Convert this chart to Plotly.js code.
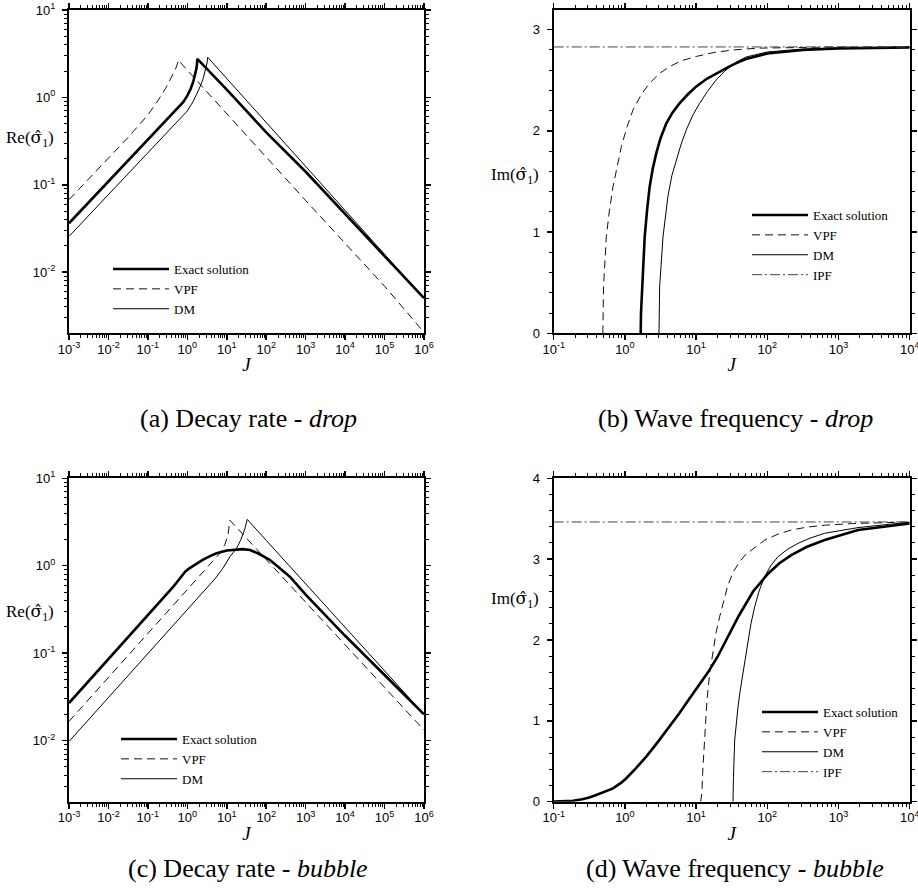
<!DOCTYPE html>
<html>
<head>
<meta charset="utf-8">
<script src="https://cdn.plot.ly/plotly-3.0.1.min.js"></script>
<style>html,body{margin:0;padding:0;background:#fff;}#chart{width:918px;height:896px;}</style>
</head>
<body>
<div id="chart"></div>
<script>
// ---------- (a) Decay rate - drop ----------
const aExactJ = [0.001, 0.01, 0.1, 0.501, 0.631, 0.794, 1, 1.202, 1.413, 1.585, 1.698, 1.758, 1.791, 10, 100, 1000, 1e4, 1e5, 1e6];
const aExactY = [0.0363, 0.1084, 0.3236, 0.696, 0.785, 0.887, 1.047, 1.239, 1.517, 1.820, 2.133, 2.404, 2.754, 1.23, 0.398, 0.141, 0.0468, 0.0155, 0.00504];
const aVpfJ = [0.001, 0.01, 0.0316, 0.1, 0.178, 0.282, 0.398, 0.501, 0.562, 0.590, 1, 10, 100, 1000, 1e4, 1e5, 1e6];
const aVpfY = [0.0676, 0.2018, 0.3487, 0.631, 0.912, 1.271, 1.679, 2.104, 2.432, 2.679, 2.042, 0.646, 0.204, 0.0661, 0.0214, 0.00692, 0.00205];
const aDmJ = [0.001, 0.01, 0.1, 0.501, 1, 1.413, 1.995, 2.512, 2.884, 3.162, 3.281, 10, 100, 1000, 1e4, 1e5, 1e6];
const aDmY = [0.0257, 0.0767, 0.229, 0.4925, 0.700, 0.904, 1.250, 1.641, 2.061, 2.472, 2.877, 1.641, 0.515, 0.162, 0.0509, 0.0160, 0.00504];

// ---------- (b) Wave frequency - drop ----------
const bExactJ = [1.667, 1.683, 1.754, 1.897, 2.051, 2.228, 2.466, 2.761, 3.177, 3.819, 4.699, 5.888, 7.621, 10.07, 14.13, 21.38, 28.18, 35.48, 50.12, 100, 316.2, 1000, 10000];
const bExactY = [0, 0.2, 0.46, 0.953, 1.22, 1.449, 1.63, 1.78, 1.93, 2.076, 2.185, 2.274, 2.36, 2.44, 2.515, 2.587, 2.63, 2.665, 2.71, 2.765, 2.80, 2.815, 2.825];
const bVpfJ = [0.490, 0.491, 0.501, 0.548, 0.603, 0.681, 0.776, 0.891, 1.072, 1.300, 1.698, 2.228, 3.020, 4.266, 6.310, 10.07, 17.78, 32.96, 74.13, 316.2, 1000, 10000];
const bVpfY = [0, 0.2, 0.46, 0.953, 1.2, 1.449, 1.66, 1.845, 2.04, 2.208, 2.36, 2.472, 2.565, 2.637, 2.695, 2.736, 2.775, 2.80, 2.818, 2.827, 2.83, 2.83];
const bDmJ = [3.013, 3.027, 3.076, 3.428, 4.027, 4.571, 5.272, 6.166, 7.278, 8.913, 11.22, 14.45, 19.23, 25.12, 35.48, 50.12, 100, 316.2, 1000, 10000];
const bDmY = [0, 0.2, 0.46, 0.953, 1.356, 1.56, 1.713, 1.87, 2.01, 2.15, 2.274, 2.39, 2.505, 2.59, 2.675, 2.73, 2.78, 2.81, 2.822, 2.828];
const bIpfJ = [0.1, 10000];
const bIpfY = [2.83, 2.83];

// ---------- (c) Decay rate - bubble ----------
const cExactJ = [0.001, 0.01, 0.0352, 0.1, 0.316, 0.442, 0.562, 0.708, 0.891, 1.122, 1.413, 1.73, 2.512, 3.981, 5.56, 10, 17.9, 25.1, 38.9, 63.1, 124.7, 398, 1000, 1e4, 1e5, 1e6];
const cExactY = [0.0269, 0.0851, 0.162, 0.272, 0.490, 0.577, 0.661, 0.767, 0.861, 0.933, 1.0, 1.069, 1.175, 1.303, 1.390, 1.496, 1.545, 1.549, 1.514, 1.380, 1.164, 0.750, 0.468, 0.158, 0.0562, 0.0200];
const cVpfJ = [0.001, 0.01, 0.1, 1, 3.16, 6.31, 8.91, 10.7, 12.0, 100, 1000, 1e4, 1e5, 1e6];
const cVpfY = [0.0166, 0.0525, 0.166, 0.525, 0.933, 1.349, 1.738, 2.239, 3.311, 1.175, 0.380, 0.123, 0.0407, 0.0132];
const cDmJ = [0.001, 0.01, 0.1, 1, 1.73, 3.162, 5.012, 7.943, 12.08, 17.78, 22.39, 28.18, 31.62, 33.11, 100, 1000, 1e4, 1e5, 1e6];
const cDmY = [0.00977, 0.0309, 0.0977, 0.309, 0.407, 0.556, 0.708, 0.933, 1.271, 1.585, 1.950, 2.570, 3.020, 3.388, 1.950, 0.617, 0.195, 0.0631, 0.0200];

// ---------- (d) Wave frequency - bubble ----------
const dExactJ = [0.1, 0.1413, 0.1866, 0.2512, 0.3162, 0.3963, 0.5012, 0.6808, 0.8913, 1.047, 1.413, 1.995, 2.818, 4.256, 5.888, 8.128, 10.96, 14.69, 19.95, 26.55, 39.81, 63.1, 102.3, 147.9, 217.3, 354.8, 639.7, 1879, 5012, 10000];
const dExactY = [0.002, 0.006, 0.012, 0.03, 0.052, 0.083, 0.12, 0.165, 0.235, 0.29, 0.41, 0.557, 0.725, 0.928, 1.10, 1.28, 1.44, 1.60, 1.79, 2.0, 2.3, 2.6, 2.82, 2.95, 3.05, 3.15, 3.237, 3.36, 3.41, 3.44];
const dVpfJ = [11.59, 11.75, 12.02, 12.50, 13.18, 14.22, 15.52, 17.26, 19.05, 21.43, 24.55, 27.54, 33.11, 40.93, 50.12, 63.1, 91.83, 141.3, 217.3, 354.8, 639.7, 1585, 3162, 10000];
const dVpfY = [0, 0.03, 0.1, 0.433, 0.846, 1.258, 1.588, 1.876, 2.09, 2.288, 2.5, 2.66, 2.84, 2.97, 3.06, 3.13, 3.235, 3.31, 3.36, 3.395, 3.42, 3.44, 3.45, 3.46];
const dDmJ = [32.96, 33.11, 33.5, 34.83, 36.73, 38.81, 41.69, 45.6, 48.98, 53.58, 58.88, 66.53, 77.62, 91.83, 112.2, 141.3, 190.5, 269.8, 398.1, 639.7, 1879, 5012, 10000];
const dDmY = [0, 0.15, 0.3, 0.763, 1.0, 1.175, 1.38, 1.588, 1.78, 2.0, 2.2, 2.412, 2.62, 2.783, 2.92, 3.03, 3.12, 3.195, 3.26, 3.32, 3.39, 3.43, 3.455];
const dIpfJ = [0.1, 10000];
const dIpfY = [3.46, 3.46];

// ---------- labels ----------
const seriesNames = ['Exact solution', 'VPF', 'DM', 'IPF'];
const decayXTickVals = [1e-3, 1e-2, 1e-1, 1, 10, 100, 1e3, 1e4, 1e5, 1e6];
const decayXTickText = ['10<sup>-3</sup>', '10<sup>-2</sup>', '10<sup>-1</sup>', '10<sup>0</sup>', '10<sup>1</sup>', '10<sup>2</sup>', '10<sup>3</sup>', '10<sup>4</sup>', '10<sup>5</sup>', '10<sup>6</sup>'];
const decayYTickVals = [1e-2, 1e-1, 1, 10];
const decayYTickText = ['10<sup>-2</sup>', '10<sup>-1</sup>', '10<sup>0</sup>', '10<sup>1</sup>'];
const freqXTickVals = [1e-1, 1, 10, 100, 1e3, 1e4];
const freqXTickText = ['10<sup>-1</sup>', '10<sup>0</sup>', '10<sup>1</sup>', '10<sup>2</sup>', '10<sup>3</sup>', '10<sup>4</sup>'];
const captions = ['(a) Decay rate - <i>drop</i>', '(b) Wave frequency - <i>drop</i>', '(c) Decay rate - <i>bubble</i>', '(d) Wave frequency - <i>bubble</i>'];
const yTitleRe = 'Re(<span style="font-family:DejaVu Serif">σ̂</span><sub>1</sub>)';
const yTitleIm = 'Im(<span style="font-family:DejaVu Serif">σ̂</span><sub>1</sub>)';

function minorLog(lo, hi) {
  const v = [];
  for (let e = Math.floor(lo); e < hi; e++) for (let m = 2; m <= 9; m++) {
    const val = m * Math.pow(10, e);
    if (Math.log10(val) > lo && Math.log10(val) < hi) v.push(val);
  }
  return v;
}
function minorLin(top, step, major) {
  const v = [];
  for (let k = 1; k * step < top - 1e-9; k++) {
    const val = k * step;
    if (Math.abs(val / major - Math.round(val / major)) > 1e-6) v.push(val);
  }
  return v;
}

const W = 918, H = 896;
const styles = {
  exact: {color: '#000', width: 2.6, dash: 'solid'},
  vpf: {color: '#111', width: 1, dash: '8px,5px'},
  dm: {color: '#000', width: 1, dash: 'solid'},
  ipf: {color: '#444', width: 1, dash: '10px,3px,2px,3px'}
};

function tr(x, y, name, st, xa, ya, leg) {
  return {x: x, y: y, name: name, type: 'scatter', mode: 'lines', line: st,
          xaxis: xa, yaxis: ya, legend: leg, hoverinfo: 'skip'};
}

const data = [
  tr(aExactJ, aExactY, seriesNames[0], styles.exact, 'x', 'y', 'legend'),
  tr(aVpfJ, aVpfY, seriesNames[1], styles.vpf, 'x', 'y', 'legend'),
  tr(aDmJ, aDmY, seriesNames[2], styles.dm, 'x', 'y', 'legend'),
  tr(bExactJ, bExactY, seriesNames[0], styles.exact, 'x2', 'y2', 'legend2'),
  tr(bVpfJ, bVpfY, seriesNames[1], styles.vpf, 'x2', 'y2', 'legend2'),
  tr(bDmJ, bDmY, seriesNames[2], styles.dm, 'x2', 'y2', 'legend2'),
  tr(bIpfJ, bIpfY, seriesNames[3], styles.ipf, 'x2', 'y2', 'legend2'),
  tr(cExactJ, cExactY, seriesNames[0], styles.exact, 'x3', 'y3', 'legend3'),
  tr(cVpfJ, cVpfY, seriesNames[1], styles.vpf, 'x3', 'y3', 'legend3'),
  tr(cDmJ, cDmY, seriesNames[2], styles.dm, 'x3', 'y3', 'legend3'),
  tr(dExactJ, dExactY, seriesNames[0], styles.exact, 'x4', 'y4', 'legend4'),
  tr(dVpfJ, dVpfY, seriesNames[1], styles.vpf, 'x4', 'y4', 'legend4'),
  tr(dDmJ, dDmY, seriesNames[2], styles.dm, 'x4', 'y4', 'legend4'),
  tr(dIpfJ, dIpfY, seriesNames[3], styles.ipf, 'x4', 'y4', 'legend4')
];

const tickFont = {family: 'Liberation Sans, Arial, sans-serif', size: 13, color: '#000'};
const xL = [69 / W, 424 / W], xR = [553.7 / W, 909.7 / W];
const yT = [1 - 333.3 / H, 1 - 10 / H], yT2 = [1 - 333.3 / H, 1 - 9.5 / H], yB = [1 - 801.7 / H, 1 - 478.3 / H];

const logYRange = [Math.log10(0.002), 1];
const kinds = {
  decayX: {type: 'log', range: [-3, 6], tickvals: decayXTickVals, ticktext: decayXTickText, minorvals: minorLog(-3, 6)},
  freqX: {type: 'log', range: [-1, 4], tickvals: freqXTickVals, ticktext: freqXTickText, minorvals: minorLog(-1, 4)},
  decayY: {type: 'log', range: logYRange, tickvals: decayYTickVals, ticktext: decayYTickText, minorvals: minorLog(logYRange[0], 1)},
  freqY32: {type: 'linear', range: [0, 3.2], tickvals: [0, 1, 2, 3], ticktext: ['0', '1', '2', '3'], minorvals: minorLin(3.2, 0.2, 1)},
  freqY4: {type: 'linear', range: [0, 4], tickvals: [0, 1, 2, 3, 4], ticktext: ['0', '1', '2', '3', '4'], minorvals: minorLin(4, 0.2, 1)}
};

function axis(kind, extra) {
  const k = kinds[kind];
  return Object.assign({type: k.type, range: k.range, tickmode: 'array', tickvals: k.tickvals, ticktext: k.ticktext,
    showline: true, linewidth: 2, linecolor: '#000', mirror: 'ticks',
    ticks: 'outside', ticklen: 5, tickwidth: 1.5, tickcolor: '#000',
    minor: {tickmode: 'array', tickvals: k.minorvals, ticks: 'outside', ticklen: 3, tickwidth: 1, tickcolor: '#000', showgrid: false},
    showgrid: false, zeroline: false, tickfont: tickFont, ticklabeloverflow: 'allow'}, extra);
}

const panels = [
  {xs: 'x', ys: 'y', xk: 'decayX', yk: 'decayY', dx: xL, dy: yT},
  {xs: 'x2', ys: 'y2', xk: 'freqX', yk: 'freqY32', dx: xR, dy: yT2},
  {xs: 'x3', ys: 'y3', xk: 'decayX', yk: 'decayY', dx: xL, dy: yB},
  {xs: 'x4', ys: 'y4', xk: 'freqX', yk: 'freqY4', dx: xR, dy: yB}
];

const legFont = {family: 'Liberation Serif, serif', size: 13, color: '#000'};
function leg(px, py) {
  return {x: px / W, y: 1 - py / H, xanchor: 'left', yanchor: 'top', bgcolor: 'rgba(0,0,0,0)',
          borderwidth: 0, font: legFont, itemwidth: 56, tracegroupgap: 0, itemclick: false};
}
function ann(text, px, py, size) {
  return {text: text, x: px / W, y: 1 - py / H, xref: 'paper', yref: 'paper', showarrow: false,
          xanchor: 'center', yanchor: 'middle',
          font: {family: 'Liberation Serif, serif', size: size, color: '#000'}};
}

const layout = {
  width: W, height: H, margin: {l: 0, r: 0, t: 0, b: 0},
  paper_bgcolor: '#fff', plot_bgcolor: '#fff', showlegend: true,
  legend: leg(108, 254),
  legend2: leg(747, 200),
  legend3: leg(116, 724),
  legend4: leg(757, 697),
  annotations: [
    ann(yTitleRe, 30, 138, 17),
    ann(yTitleIm, 515, 176, 17),
    ann(yTitleRe, 30, 612, 17),
    ann(yTitleIm, 515, 599, 17),
    ann(captions[0], 248, 418, 26),
    ann(captions[1], 735, 418, 26),
    ann(captions[2], 248, 868, 26),
    ann(captions[3], 735, 868, 26)
  ]
};

panels.forEach((p, i) => {
  const n = i + 1;
  const xName = n === 1 ? 'xaxis' : 'xaxis' + n;
  const yName = n === 1 ? 'yaxis' : 'yaxis' + n;
  layout[xName] = axis(p.xk, {anchor: p.ys, domain: p.dx, ticklabelstandoff: -2,
    title: {text: '<i>J</i>', font: {family: 'Liberation Serif, serif', size: 19, color: '#000'}, standoff: 2}});
  layout[yName] = axis(p.yk, {anchor: p.xs, domain: p.dy, ticklabelstandoff: 4});
});

Plotly.newPlot('chart', data, layout, {staticPlot: true, displayModeBar: false});
</script>
</body>
</html>
